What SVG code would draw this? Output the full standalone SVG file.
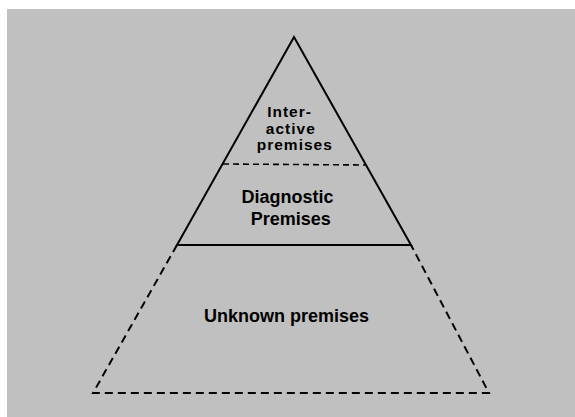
<svg xmlns="http://www.w3.org/2000/svg" width="575" height="417" viewBox="0 0 575 417">
  <style>
    .solid { fill: none; stroke: #000; stroke-width: 2; stroke-linejoin: miter; }
    .dash { fill: none; stroke: #000; stroke-width: 2; stroke-dasharray: 8 5; }
    .dash-thin { fill: none; stroke: #000; stroke-width: 1.6; stroke-dasharray: 6 4; }
    .lbl { font-family: "Liberation Sans", Arial, sans-serif; font-weight: bold; font-size: 18px; fill: #000; text-anchor: middle; }
    .small { font-size: 15.5px; letter-spacing: 1px; }
  </style>
  <rect id="background" x="7" y="9" width="568" height="408" fill="#c0c0c0"/>
  <g id="tier-unknown">
    <polyline class="dash" points="177,245 93,393 489,393 411,245"/>
    <text class="lbl" x="286.5" y="321.7">Unknown premises</text>
  </g>
  <g id="tier-diagnostic">
    <text class="lbl" x="287.5" y="203.3">Diagnostic</text>
    <text class="lbl" x="290.8" y="225">Premises</text>
  </g>
  <g id="tier-interactive">
    <text class="lbl small" x="289.5" y="117">Inter-</text>
    <text class="lbl small" x="290.8" y="133.5">active</text>
    <text class="lbl small" x="294.8" y="150">premises</text>
  </g>
  <g id="connectors">
    <line class="dash-thin" x1="223" y1="164" x2="365" y2="165"/>
    <polygon class="solid" points="294,37 411,245 177,245"/>
  </g>
</svg>
